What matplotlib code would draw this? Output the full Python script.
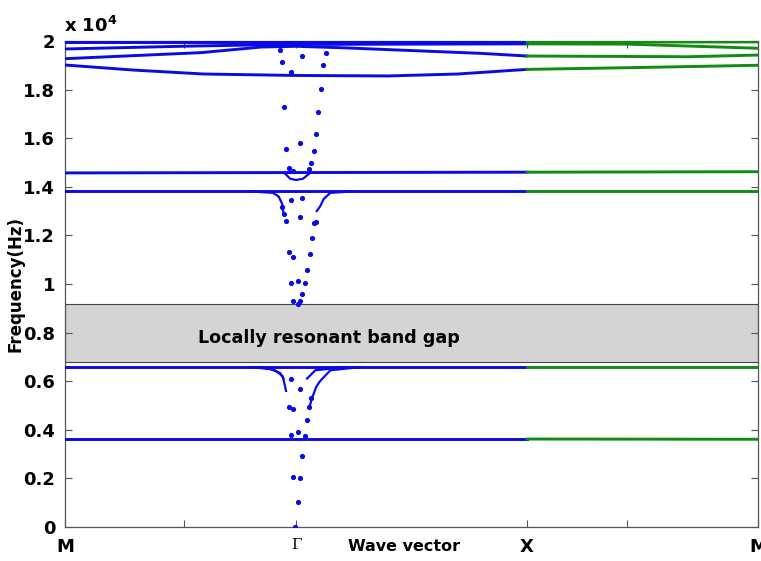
"""Band structure of a locally resonant phononic crystal along M-Γ-X-M."""

import matplotlib
matplotlib.use("Agg")
import matplotlib.pyplot as plt
from matplotlib.patches import Rectangle

BLUE = "#0a0ae6"
GREEN = "#138a13"
GAP_FACE = "#d4d4d4"
SPINE = "#555555"
BOLD = dict(family="DejaVu Sans", weight="bold")

# path coordinate: M = 0, Γ = 1, X = 2, M = 3 ; frequencies in units of 1e4 Hz
tick_pos = [0, 0.516, 1.0, 2.0, 2.432, 3.0]
tick_names = ["M", "", "Γ", "X", "", "M"]
y_ticks = [0, 0.2, 0.4, 0.6, 0.8, 1.0, 1.2, 1.4, 1.6, 1.8, 2.0]
y_tick_names = ["0", "0.2", "0.4", "0.6", "0.8", "1", "1.2", "1.4", "1.6", "1.8", "2"]

gap_low = 0.679
gap_high = 0.918

# flat branches over the whole path (vertex at X where the colour changes)
band1_k = [0, 2, 3]
band1_f = [0.362, 0.362, 0.361]
band2_k = [0, 2, 3]
band2_f = [0.660, 0.660, 0.660]
band3_k = [0, 2, 3]
band3_f = [1.383, 1.383, 1.383]
band4_k = [0, 2, 3]
band4_f = [1.457, 1.460, 1.462]
band5_k = [0, 0.3, 0.6, 1.0, 1.4, 1.7, 2, 2.5, 3]
band5_f = [1.901, 1.880, 1.864, 1.858, 1.856, 1.864, 1.883, 1.891, 1.900]
band6_k = [0, 0.59, 0.85, 1.0, 1.2, 1.8, 2, 2.7, 3]
band6_f = [1.927, 1.952, 1.975, 1.978, 1.972, 1.949, 1.938, 1.935, 1.942]
band7_k = [0, 0.5, 0.9, 1.1, 2, 2.43, 3]
band7_f = [1.967, 1.978, 1.985, 1.986, 1.988, 1.987, 1.970]
band8_k = [0, 2, 3]
band8_f = [1.995, 1.995, 1.996]

bands = [
    (band1_k, band1_f), (band2_k, band2_f), (band3_k, band3_f), (band4_k, band4_f),
    (band5_k, band5_f), (band6_k, band6_f), (band7_k, band7_f), (band8_k, band8_f),
]

# steep branches bending away from the flat bands close to Γ
curve_g_left1_k = [0.80, 0.89, 0.932, 0.945]
curve_g_left1_f = [0.658, 0.650, 0.633, 0.612]
curve_g_left2_k = [0.845, 0.91, 0.943, 0.957]
curve_g_left2_f = [0.658, 0.645, 0.620, 0.560]
curve_g_right1_k = [1.214, 1.084, 1.048]
curve_g_right1_f = [0.658, 0.645, 0.611]
curve_g_right2_k = [1.279, 1.149, 1.105, 1.088, 1.069, 1.057]
curve_g_right2_f = [0.658, 0.645, 0.601, 0.577, 0.529, 0.490]
curve_f_left_k = [0.80, 0.90, 0.925, 0.94, 0.946]
curve_f_left_f = [1.381, 1.375, 1.360, 1.330, 1.290]
curve_f_right_k = [1.25, 1.149, 1.12, 1.105, 1.09]
curve_f_right_f = [1.381, 1.375, 1.350, 1.320, 1.300]
curve_e_bowl_k = [0.955, 0.975, 1.0, 1.03, 1.055]
curve_e_bowl_f = [1.452, 1.433, 1.428, 1.433, 1.452]

curves = [
    (curve_g_left1_k, curve_g_left1_f), (curve_g_left2_k, curve_g_left2_f),
    (curve_g_right1_k, curve_g_right1_f), (curve_g_right2_k, curve_g_right2_f),
    (curve_f_left_k, curve_f_left_f), (curve_f_right_k, curve_f_right_f),
    (curve_e_bowl_k, curve_e_bowl_f),
]

# isolated eigenfrequencies sampled near Γ
gamma_k = [
    0.997, 1.007, 0.987, 1.017, 1.027, 0.978, 1.009, 1.037,
    0.978, 1.019, 0.968, 0.989, 1.058, 1.066, 1.048,
    1.007, 0.988, 1.019, 1.027, 0.978, 1.007, 1.039, 1.047,
    0.968, 0.988, 1.059, 1.068, 1.088, 0.957, 1.017, 1.078,
    0.939, 0.946, 0.978, 1.027,
    0.968, 0.989, 1.056, 1.066, 0.958, 1.078, 1.017, 1.088,
    0.946, 1.097, 1.108, 0.978, 1.117, 0.938, 1.027, 1.131, 0.929,
]
gamma_f = [
    0.000, 0.102, 0.204, 0.203, 0.292, 0.379, 0.392, 0.374,
    0.609, 0.568, 0.495, 0.484, 0.492, 0.530, 0.440,
    0.918, 0.931, 0.931, 0.959, 1.005, 1.013, 1.003, 1.056,
    1.130, 1.110, 1.122, 1.190, 1.255, 1.258, 1.274, 1.249,
    1.318, 1.287, 1.346, 1.355,
    1.476, 1.466, 1.472, 1.499, 1.556, 1.547, 1.579, 1.617,
    1.727, 1.707, 1.804, 1.871, 1.903, 1.912, 1.938, 1.949, 1.963,
]


def main() -> None:
    fig = plt.figure(figsize=(7.61, 5.61), dpi=100)
    ax = fig.add_axes([0.0854, 0.0606, 0.9106, 0.8664])

    ax.add_patch(Rectangle((0, gap_low), 3, gap_high - gap_low, facecolor=GAP_FACE,
                           edgecolor="#444444", linewidth=0.8, zorder=1))
    ax.text(1.144, 0.776, "Locally resonant band gap",
            ha="center", va="center", fontsize=12.6, zorder=2, **BOLD)

    for k, f in bands:
        split = k.index(2)
        ax.plot(k[:split + 1], f[:split + 1], color=BLUE, linewidth=2.1, zorder=3)
        ax.plot(k[split:], f[split:], color=GREEN, linewidth=2.1, zorder=3)
    for k, f in curves:
        ax.plot(k, f, color=BLUE, linewidth=1.6, zorder=3)
    ax.plot(gamma_k, gamma_f, linestyle="none", marker="o", markersize=2.7,
            color=BLUE, zorder=4)

    ax.set_xlim(0, 3)
    ax.set_ylim(0, 2)
    ax.set_xticks(tick_pos)
    ax.set_xticklabels(tick_names, fontsize=13, **BOLD)
    gamma_label = ax.get_xticklabels()[2]
    gamma_label.set_fontfamily("DejaVu Serif")
    gamma_label.set_fontweight("normal")
    gamma_label.set_fontsize(11)
    ax.set_yticks(y_ticks)
    ax.set_yticklabels(y_tick_names, fontsize=13, **BOLD)
    ax.tick_params(direction="in", top=True, right=True, length=5, width=0.8,
                   color=SPINE)
    ax.tick_params(axis="y", pad=7)
    ax.tick_params(axis="x", pad=8)
    for spine in ax.spines.values():
        spine.set_color(SPINE)
        spine.set_linewidth(0.9)

    ax.set_ylabel("Frequency(Hz)", fontsize=12, **BOLD)
    ax.yaxis.set_label_coords(-0.058, 0.5)
    ax.set_xlabel("Wave vector", fontsize=11.5, **BOLD)
    ax.xaxis.set_label_coords(0.489, -0.024)
    fig.text(0.084, 0.943, r"x 10$^{\mathbf{4}}$", fontsize=13, **BOLD)

    fig.savefig("out.png", dpi=100, facecolor="white")
    plt.close(fig)


if __name__ == "__main__":
    main()
